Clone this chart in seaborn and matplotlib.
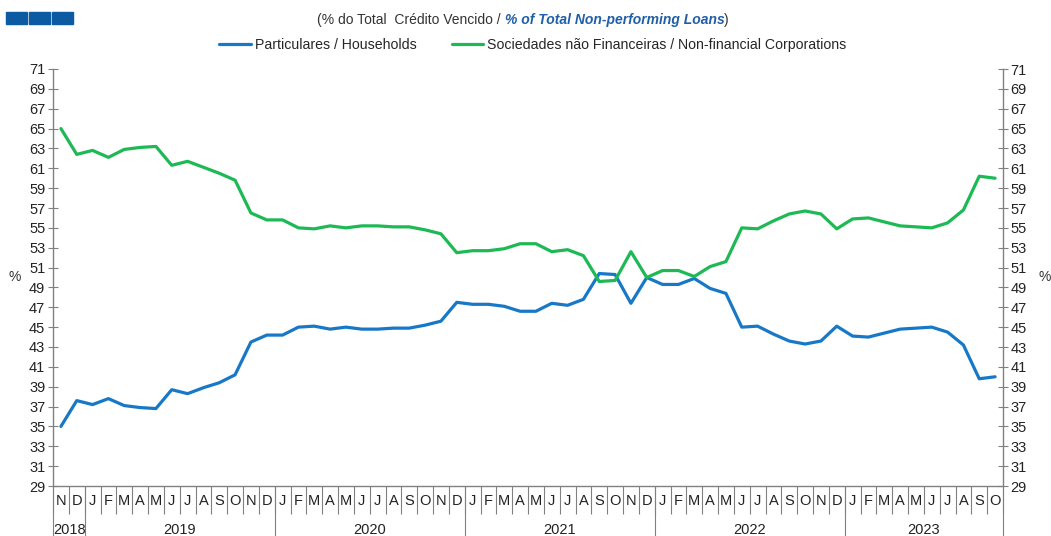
import numpy as np
import pandas as pd
import matplotlib
matplotlib.use("Agg")
import matplotlib.pyplot as plt
import seaborn as sns
from matplotlib.patches import Rectangle
from matplotlib.lines import Line2D

# monthly data, Nov 2018 -> Oct 2023
months = ["N", "D"] + ["J", "F", "M", "A", "M", "J", "J", "A", "S", "O", "N", "D"] * 4 + \
         ["J", "F", "M", "A", "M", "J", "J", "A", "S", "O"]
years = ["2018", "2019", "2020", "2021", "2022", "2023"]
year_lengths = [2, 12, 12, 12, 12, 10]

households = [35.0, 37.6,
              37.2, 37.8, 37.1, 36.9, 36.8, 38.7, 38.3, 38.9, 39.4, 40.2, 43.5, 44.2,
              44.2, 45.0, 45.1, 44.8, 45.0, 44.8, 44.8, 44.9, 44.9, 45.2, 45.6, 47.5,
              47.3, 47.3, 47.1, 46.6, 46.6, 47.4, 47.2, 47.8, 50.4, 50.3, 47.4, 50.0,
              49.3, 49.3, 49.9, 48.9, 48.4, 45.0, 45.1, 44.3, 43.6, 43.3, 43.6, 45.1,
              44.1, 44.0, 44.4, 44.8, 44.9, 45.0, 44.5, 43.2, 39.8, 40.0]
corporations = [65.0, 62.4,
                62.8, 62.1, 62.9, 63.1, 63.2, 61.3, 61.7, 61.1, 60.5, 59.8, 56.5, 55.8,
                55.8, 55.0, 54.9, 55.2, 55.0, 55.2, 55.2, 55.1, 55.1, 54.8, 54.4, 52.5,
                52.7, 52.7, 52.9, 53.4, 53.4, 52.6, 52.8, 52.2, 49.6, 49.7, 52.6, 50.0,
                50.7, 50.7, 50.1, 51.1, 51.6, 55.0, 54.9, 55.7, 56.4, 56.7, 56.4, 54.9,
                55.9, 56.0, 55.6, 55.2, 55.1, 55.0, 55.5, 56.8, 60.2, 60.0]

lbl_hh = "Particulares / Households"
lbl_nfc = "Sociedades não Financeiras / Non-financial Corporations"

n = len(months)
df = pd.DataFrame({
    "idx": list(range(n)) * 2,
    "value": households + corporations,
    "serie": [lbl_hh] * n + [lbl_nfc] * n,
})

sns.set_style("white")
plt.rcParams["font.family"] = ["Liberation Sans", "DejaVu Sans"]

W, H = 1051, 536
fig = plt.figure(figsize=(W / 100, H / 100), dpi=100)
ax = fig.add_axes([53 / W, (H - 486) / H, (1003 - 53) / W, (486 - 69) / H])

palette = {lbl_hh: "#1878C8", lbl_nfc: "#1DB955"}
sns.lineplot(data=df, x="idx", y="value", hue="serie", palette=palette,
             linewidth=2.3, ax=ax, legend=False)

ax.set_xlim(-0.5, n - 0.5)
ax.set_ylim(29, 71)
yt = np.arange(29, 72, 2)
ax.set_yticks(yt)
ax.set_xlabel("")
ax.set_ylabel("")

axr = ax.twinx()
axr.set_ylim(29, 71)
axr.set_yticks(yt)
for a in (ax, axr):
    a.spines["top"].set_visible(False)
    for s in ["left", "right", "bottom"]:
        a.spines[s].set_color("#808080")
        a.spines[s].set_linewidth(1.0)
    a.tick_params(axis="y", direction="inout", length=7, width=0.8, color="#808080",
                  labelsize=10.5, labelcolor="#222222", pad=2)
ax.spines["right"].set_visible(False)
axr.spines["left"].set_visible(False)
axr.spines["bottom"].set_visible(False)
ax.tick_params(axis="y", left=True)
axr.tick_params(axis="y", right=True)

# month separators and month letters
ax.set_xticks(np.arange(-0.5, n, 1))
ax.set_xticklabels([])
ax.tick_params(axis="x", bottom=True, direction="out", length=20, width=0.8, color="#808080")
for i, m in enumerate(months):
    ax.text(i, -0.02, m, transform=ax.get_xaxis_transform(), ha="center", va="top",
            fontsize=10.5, color="#222222")

# year separators and year labels
start = 0
bounds = [-0.5]
for y, L in zip(years, year_lengths):
    end = start + L
    bounds.append(end - 0.5)
    if y == "2018":
        ax.text(start - 0.5, -0.088, y, transform=ax.get_xaxis_transform(),
                ha="left", va="top", fontsize=10.5, color="#222222")
    else:
        ax.text((start + end - 1) / 2, -0.088, y, transform=ax.get_xaxis_transform(),
                ha="center", va="top", fontsize=10.5, color="#222222")
    start = end
for b in bounds:
    ax.plot([b, b], [0, -0.125], transform=ax.get_xaxis_transform(), color="#808080",
            lw=0.8, clip_on=False)

fig.text(15 / W, 1 - 277 / H, "%", ha="center", va="center", fontsize=10, color="#333333")
fig.text(1045 / W, 1 - 277 / H, "%", ha="center", va="center", fontsize=10, color="#333333")

# title with mixed styles
fig.canvas.draw()
r = fig.canvas.get_renderer()
parts = [("(% do Total  Crédito Vencido / ", "#333333", "normal", "normal"),
         ("% of Total Non-performing Loans", "#1F5FA8", "italic", "bold"),
         (")", "#333333", "normal", "normal")]
texts = []
for s, c, st, wt in parts:
    t = fig.text(0, 1 - 20 / H, s, fontsize=10, color=c, style=st, weight=wt,
                 va="center", ha="left")
    texts.append(t)
widths = [t.get_window_extent(renderer=r).width for t in texts]
x0 = 523 - sum(widths) / 2
for t, w in zip(texts, widths):
    t.set_x(x0 / W)
    x0 += w

# legend
handles = [Line2D([], [], color=palette[lbl_hh], lw=2.3),
           Line2D([], [], color=palette[lbl_nfc], lw=2.3)]
fig.legend(handles, [lbl_hh, lbl_nfc], loc="center", bbox_to_anchor=(533 / W, 1 - 45 / H),
           ncol=2, frameon=False, fontsize=10.2, handlelength=2.2, handletextpad=0.3,
           columnspacing=2.5)

# decorative squares top left
for x in (6, 29, 52):
    fig.patches.append(Rectangle((x / W, 1 - 24 / H), 21 / W, 12 / H,
                                 transform=fig.transFigure, color="#0B5AA2"))

fig.savefig("out.png", dpi=100)
